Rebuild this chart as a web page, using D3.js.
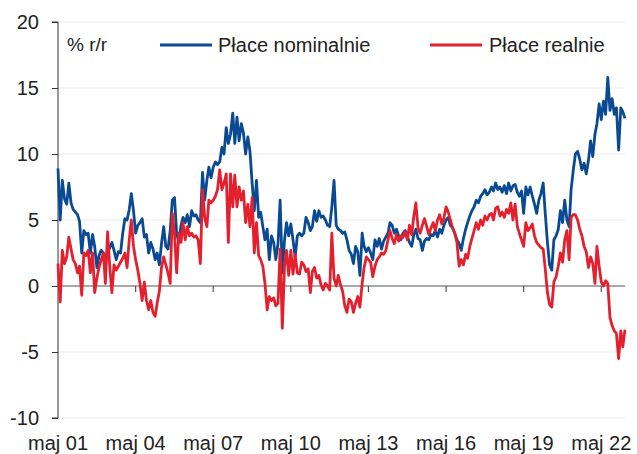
<!DOCTYPE html>
<html>
<head>
<meta charset="utf-8">
<script src="https://cdn.jsdelivr.net/npm/d3@7"></script>
<style>
  html, body { margin: 0; padding: 0; background: #fff; }
  svg { display: block; }
  text { font-family: "Liberation Sans", Arial, sans-serif; fill: #222; }
</style>
</head>
<body>
<svg id="chart" width="637" height="454"></svg>
<script>
// Monthly series, May 2001 .. Apr 2023 (% y/y)
const startMonth = [2001, 4]; // May 2001
const nominal = [
  8.9,5.0,8.0,6.6,6.2,7.8,6.3,5.8,5.6,5.4,
  4.9,2.5,4.2,3.9,4.0,2.5,3.9,3.0,1.4,2.3,
  2.7,2.5,2.2,2.5,2.9,3.3,2.7,2.0,2.6,2.5,
  4.0,5.1,5.0,5.8,7.0,5.7,4.0,4.6,4.8,5.1,
  3.7,3.9,2.5,3.3,2.8,2.0,2.5,1.6,3.2,4.5,
  3.0,2.8,4.2,6.5,6.7,4.0,3.3,4.6,5.2,4.8,
  5.4,4.5,5.7,5.3,5.4,5.0,4.8,8.6,6.5,8.0,
  9.0,8.2,9.0,9.4,9.2,9.4,10.5,10.0,12.0,10.8,
  11.5,13.1,10.8,12.8,11.0,12.3,11.6,10.0,11.3,10.2,
  7.8,5.7,8.0,5.2,5.6,4.5,3.5,4.3,2.0,3.8,
  3.3,2.0,3.2,6.5,1.0,3.5,4.8,3.8,4.7,3.5,
  2.2,3.8,4.0,3.8,4.0,5.2,4.8,4.2,4.5,5.7,
  4.9,5.7,5.2,5.3,5.0,4.6,4.5,6.0,8.0,4.6,
  4.3,4.2,4.0,4.1,3.5,2.7,2.4,1.7,3.0,2.6,
  0.8,4.0,3.0,2.6,2.9,2.5,2.0,3.5,3.0,3.6,
  2.8,3.4,3.7,4.0,4.8,4.6,4.0,4.3,3.8,3.5,
  4.0,4.2,3.8,3.3,3.0,3.9,4.3,3.6,3.5,2.7,
  3.4,3.6,3.5,3.9,3.8,4.2,3.7,4.3,4.0,4.6,
  5.0,5.2,4.6,4.4,4.0,3.5,3.2,2.7,3.6,4.3,
  4.8,5.3,5.7,6.0,6.5,6.3,6.8,7.0,7.3,6.9,
  7.1,7.5,7.2,7.8,7.3,7.5,7.1,7.6,7.0,7.8,
  7.2,7.6,7.7,7.1,6.8,7.2,5.5,7.5,6.9,7.5,
  6.8,6.2,5.5,6.5,7.0,7.8,5.5,3.3,1.6,1.2,
  3.5,3.8,4.3,5.7,4.8,6.5,5.0,4.5,7.3,8.8,
  10.0,10.2,9.6,8.8,9.3,8.5,9.5,11.0,9.8,11.5,
  12.3,13.8,12.6,14.0,13.0,15.8,13.3,14.2,13.0,13.5,
  10.3,13.5,13.2,12.7
];
const real = [
  1.7,-1.2,2.7,1.7,2.2,3.7,2.8,2.0,1.7,1.0,
  1.5,-0.7,2.5,2.3,2.7,1.0,2.5,-0.5,0.6,1.4,
  2.0,2.5,0.2,4.1,1.5,-0.5,1.6,1.2,1.5,1.8,
  2.1,2.5,1.4,3.5,5.0,3.0,2.0,1.2,0.2,-1.1,
  0.3,-1.1,-1.8,-1.1,-2.0,-2.3,-1.3,-0.4,1.4,2.2,
  1.6,1.0,0.2,5.5,4.0,1.0,4.0,3.3,4.8,3.5,
  4.5,3.8,4.0,3.7,3.8,3.5,1.7,7.3,5.2,4.5,
  6.5,6.3,6.5,6.8,7.3,8.8,7.3,7.8,8.5,3.3,
  8.5,6.0,8.4,6.0,7.5,6.5,7.2,4.8,6.2,4.5,
  6.7,2.5,4.8,2.3,2.0,1.5,0.2,-1.8,-0.8,-1.1,
  -0.9,-1.5,-1.3,2.8,-3.2,1.5,2.7,0.8,2.7,0.9,
  2.4,1.0,0.9,1.8,1.6,1.1,1.3,-0.5,1.1,1.4,
  0.6,0.8,0.1,-0.3,0.2,0.0,-0.3,4.0,0.6,0.0,
  0.8,0.1,-0.4,-1.5,-2.0,-1.0,-1.2,-2.0,-1.3,-0.8,
  -1.6,0.2,1.4,2.2,2.0,1.8,0.7,1.5,2.0,2.2,
  2.5,2.4,2.7,3.5,4.2,3.6,3.2,3.9,3.4,3.8,
  3.7,4.1,3.5,4.6,3.9,5.3,6.3,4.4,4.0,4.6,
  5.1,4.5,3.9,4.4,4.8,4.2,5.0,5.4,4.7,5.2,
  6.0,5.6,5.0,4.4,4.0,3.3,1.5,2.0,1.6,2.4,
  2.1,3.0,3.6,4.2,4.8,4.3,5.0,4.6,5.3,5.0,
  5.4,5.5,5.0,5.9,6.0,5.3,5.6,5.2,5.8,5.5,
  6.3,5.0,6.2,4.5,4.0,3.5,3.0,4.8,4.2,4.4,
  4.7,3.8,3.3,3.1,2.9,2.8,1.3,-0.5,-1.4,-1.6,
  0.3,0.7,1.5,2.5,1.8,3.5,4.2,2.0,5.2,5.4,
  5.4,5.0,4.3,3.8,3.0,2.6,1.4,2.2,1.7,0.2,
  3.0,1.5,0.3,0.0,0.4,0.2,-2.4,-3.0,-3.4,-3.6,
  -5.5,-3.4,-4.6,-3.3
];
const seriesNames = ["Płace nominalnie", "Płace realnie"];
const seriesColors = ["#0a4a93", "#e4202e"];
const yTicks = [-10, -5, 0, 5, 10, 15, 20];
const xTickYears = [2001, 2004, 2007, 2010, 2013, 2016, 2019, 2022];
const xTickLabels = ["maj 01", "maj 04", "maj 07", "maj 10", "maj 13", "maj 16", "maj 19", "maj 22"];
const unitLabel = "% r/r";

(function () {
  const dates = nominal.map((_, i) => new Date(startMonth[0], startMonth[1] + i, 1));

  const svg = d3.select("#chart");
  const pL = 58, pR = 625, pT = 22, pB = 418;

  const x = d3.scaleTime()
    .domain([dates[0], dates[dates.length - 1]])
    .range([pL, pR]);
  const y = d3.scaleLinear().domain([-10, 20]).range([pB, pT]);

  // gridlines
  svg.append("g").selectAll("line")
    .data(yTicks.filter(d => d !== 0))
    .join("line")
    .attr("x1", pL).attr("x2", pR)
    .attr("y1", d => y(d)).attr("y2", d => y(d))
    .attr("stroke", "#ececec").attr("stroke-width", 1);

  // y axis
  const yAxis = d3.axisLeft(y).tickValues(yTicks).tickSize(6).tickPadding(13)
    .tickFormat(d => String(d));
  const gy = svg.append("g").attr("transform", `translate(${pL},0)`).call(yAxis);
  gy.select(".domain").attr("stroke", "#333").attr("d", `M-6,${pT}H0V${pB}H-6`);
  gy.selectAll(".tick line").attr("stroke", "#333");
  gy.selectAll(".tick text")
    .style("font-family", '"Liberation Sans", Arial, sans-serif')
    .style("font-size", "20px").attr("fill", "#222");

  // zero line with x ticks
  const tickDates = xTickYears.map(yr => new Date(yr, 4, 1));
  svg.append("line")
    .attr("x1", pL).attr("x2", pR)
    .attr("y1", y(0)).attr("y2", y(0))
    .attr("stroke", "#555").attr("stroke-width", 1.2);
  svg.append("g").selectAll("line")
    .data(tickDates.slice(1))
    .join("line")
    .attr("x1", d => x(d)).attr("x2", d => x(d))
    .attr("y1", y(0)).attr("y2", y(0) + 6)
    .attr("stroke", "#555").attr("stroke-width", 1.2);

  // x labels
  svg.append("g").selectAll("text")
    .data(tickDates)
    .join("text")
    .attr("x", d => x(d))
    .attr("y", 450)
    .attr("text-anchor", "middle")
    .style("font-size", "20px")
    .text((d, i) => xTickLabels[i]);

  // lines
  const line = d3.line()
    .x((d, i) => x(dates[i]))
    .y(d => y(d));
  [nominal, real].forEach((s, k) => {
    svg.append("path")
      .datum(s)
      .attr("fill", "none")
      .attr("stroke", seriesColors[k])
      .attr("stroke-width", 2.8)
      .attr("stroke-linejoin", "round")
      .attr("d", line);
  });

  // legend
  svg.append("text").attr("x", 67).attr("y", 51).style("font-size", "19px").text(unitLabel);
  const legendPos = [{lx: 160, tx: 218}, {lx: 430, tx: 489}];
  legendPos.forEach((p, k) => {
    svg.append("line")
      .attr("x1", p.lx).attr("x2", p.lx + 52)
      .attr("y1", 45).attr("y2", 45)
      .attr("stroke", seriesColors[k]).attr("stroke-width", 3);
    svg.append("text").attr("x", p.tx).attr("y", 52)
      .style("font-size", "20px").text(seriesNames[k]);
  });
})();
</script>
</body>
</html>
